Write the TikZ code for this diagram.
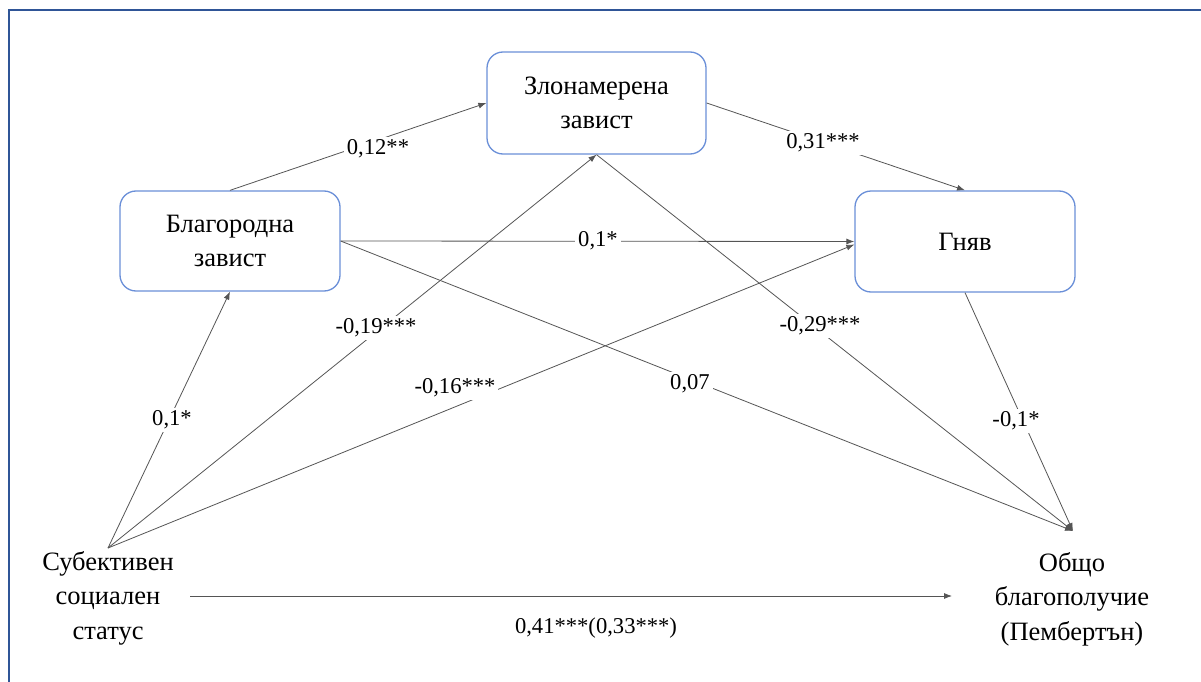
\documentclass[tikz,border=0pt]{standalone}
\usepackage{fontspec}
\setmainfont{Liberation Serif}
\usetikzlibrary{arrows.meta}
\definecolor{frameblue}{HTML}{2F5597}
\definecolor{boxblue}{HTML}{6A8FD8}
\definecolor{linegray}{HTML}{555555}
\begin{document}
\begin{tikzpicture}[x=1pt,y=-1pt,
  font=\fontsize{22.6}{34.5}\selectfont,
  namefont/.style={font=\fontsize{26.5}{34.5}\selectfont},
  varbox/.style={namefont, draw=boxblue, line width=1.3pt, rounded corners=16pt, align=center,
    minimum width=220pt, minimum height=100pt, inner sep=0pt},
  plain/.style={namefont, align=center, inner sep=0pt},
  conn/.style={draw=linegray, line width=0.8pt, -{Latex[length=8pt,width=6pt]}},
  lbl/.style={fill=white, inner sep=3pt}]
\useasboundingbox (0,0) rectangle (1201,682);
\fill[white] (0,0) rectangle (1201,682);
\draw[frameblue, line width=2pt] (9,682) -- (9,10) -- (1201,10);

% variables
\node[varbox] (bl) at (230,241) {Благородна\\завист};
\node[varbox, minimum width=219pt, minimum height=102pt] (zl) at (596.5,103) {Злонамерена\\завист};
\node[varbox, minimum height=101pt] (gn) at (965,241.5) {Гняв};
\node[plain] (ss) at (108,598) {Субективен\\социален\\статус};
\node[plain] (ob) at (1072,599) {Общо\\благополучие\\(Пембертън)};

\coordinate (ssp) at (108,548);
\coordinate (obp) at (1073,531);
\coordinate (hs) at (190,596);
\coordinate (he) at (952,596);

% connectors
\draw[conn] (bl.north) -- (zl.west);
\draw[conn] (zl.east) -- (gn.north);
\draw[conn] (bl.east) -- (gn.west);
\draw[conn] (bl.east) -- (obp);
\draw[conn] (ssp) -- (bl.south);
\draw[conn] (ssp) -- (zl.south);
\draw[conn] (ssp) -- ([yshift=-3pt]gn.west);
\draw[conn] (zl.south) -- (obp);
\draw[conn] (gn.south) -- (obp);
\draw[conn] (hs) -- (he);

% labels
\node[lbl] (l1) at (378,149) {0,12**};
\node[lbl] (l2) at (823,143) {0,31***};
\node[lbl] (l3) at (598,241) {0,1*};
\node[lbl] (l4) at (690,384) {0,07};
\node[lbl] (l5) at (172,420) {0,1*};
\node[lbl] (l6) at (376,328) {-0,19***};
\node[lbl] (l7) at (455,388) {-0,16***};
\node[lbl] (l8) at (820,326) {-0,29***};
\node[lbl] (l9) at (1016,421) {-0,1*};
\node[inner sep=0pt] (l10) at (596,628) {0,41***(0,33***)};
\end{tikzpicture}
\end{document}
